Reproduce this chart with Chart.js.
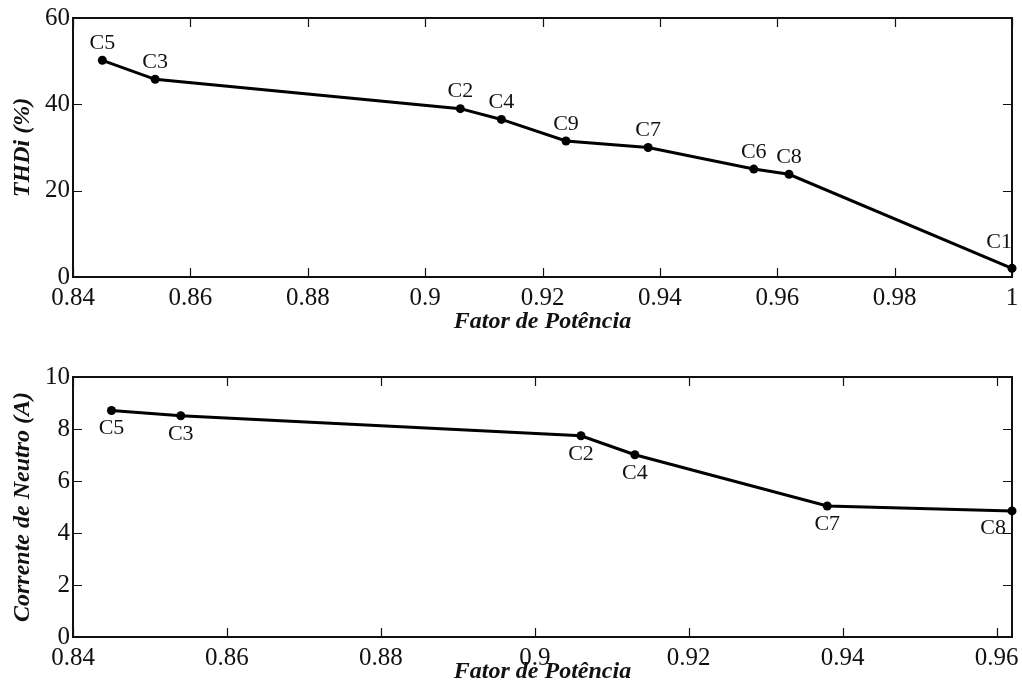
<!DOCTYPE html>
<html>
<head>
<meta charset="utf-8">
<script src="https://cdn.jsdelivr.net/npm/chart.js@4/dist/chart.umd.min.js"></script>
<style>
  body { margin: 0; background: #fff; }
  canvas { position: absolute; left: 0; }
  #thdChart { top: 0; }
  #neutroChart { top: 340px; }
</style>
</head>
<body>
<canvas id="thdChart" width="1022" height="340"></canvas>
<canvas id="neutroChart" width="1022" height="355"></canvas>
<script>
// THDi x fator de potência
const thdFp = [0.845, 0.854, 0.906, 0.913, 0.924, 0.938, 0.956, 0.962, 1.0];
const thdValues = [50.2, 45.8, 39.0, 36.5, 31.5, 30.0, 25.0, 23.8, 2.0];
const thdCases = ["C5", "C3", "C2", "C4", "C9", "C7", "C6", "C8", "C1"];
const thdXTicks = [0.84, 0.86, 0.88, 0.9, 0.92, 0.94, 0.96, 0.98, 1];
const thdYTicks = [0, 20, 40, 60];

// corrente de neutro x fator de potência
const neutroFp = [0.845, 0.854, 0.906, 0.913, 0.938, 0.962];
const neutroValues = [8.71, 8.51, 7.74, 7.01, 5.04, 4.85];
const neutroCases = ["C5", "C3", "C2", "C4", "C7", "C8"];
const neutroXTicks = [0.84, 0.86, 0.88, 0.9, 0.92, 0.94, 0.96];
const neutroYTicks = [0, 2, 4, 6, 8, 10];

const SERIF = "'Liberation Serif', 'Times New Roman', serif";
const INK = "#111";

// box around the plot with inward ticks on all four sides
const boxPlugin = {
  id: "box",
  beforeDatasetsDraw(chart) {
    const { ctx, chartArea: a, scales } = chart;
    ctx.save();
    ctx.strokeStyle = INK;
    ctx.lineWidth = 1.2;
    scales.x.ticks.forEach(t => {
      const px = Math.round(scales.x.getPixelForValue(t.value)) + 0.5;
      ctx.beginPath();
      ctx.moveTo(px, a.bottom); ctx.lineTo(px, a.bottom - 9);
      ctx.moveTo(px, a.top); ctx.lineTo(px, a.top + 9);
      ctx.stroke();
    });
    scales.y.ticks.forEach(t => {
      const py = Math.round(scales.y.getPixelForValue(t.value)) + 0.5;
      ctx.beginPath();
      ctx.moveTo(a.left, py); ctx.lineTo(a.left + 9, py);
      ctx.moveTo(a.right, py); ctx.lineTo(a.right - 9, py);
      ctx.stroke();
    });
    ctx.lineWidth = 2;
    ctx.strokeRect(a.left, a.top, a.right - a.left, a.bottom - a.top);
    ctx.restore();
  }
};

// case names next to each point
const caseLabelPlugin = {
  id: "caseLabels",
  afterDatasetsDraw(chart, args, opts) {
    const { ctx, chartArea: a } = chart;
    const meta = chart.getDatasetMeta(0);
    const names = chart.data.datasets[0].caseNames;
    ctx.save();
    ctx.font = "22px " + SERIF;
    ctx.fillStyle = INK;
    ctx.textBaseline = "middle";
    meta.data.forEach((pt, i) => {
      if (pt.x >= a.right - 1) {
        ctx.textAlign = "right";
        ctx.fillText(names[i], pt.x + opts.edgeDx, pt.y + opts.edgeDy);
      } else {
        ctx.textAlign = "center";
        ctx.fillText(names[i], pt.x, pt.y + opts.dy);
      }
    });
    ctx.restore();
  }
};

function makeChart(canvasId, xs, ys, names, xTicks, yTicks, cfg) {
  const points = xs.map((x, i) => ({ x: x, y: ys[i] }));
  const ctx = document.getElementById(canvasId).getContext("2d");

  return new Chart(ctx, {
    type: "scatter",
    data: {
      datasets: [{
        data: points,
        caseNames: names,
        showLine: true,
        borderColor: "#000",
        backgroundColor: "#000",
        borderWidth: 3,
        pointRadius: 4.5,
        pointBorderWidth: 0,
        clip: false
      }]
    },
    options: {
      responsive: false,
      animation: false,
      devicePixelRatio: 1,
      layout: { padding: { top: cfg.top, right: 10, left: 0, bottom: 0 } },
      plugins: {
        legend: { display: false },
        tooltip: { enabled: false },
        caseLabels: cfg.labels
      },
      scales: {
        x: {
          type: "linear",
          min: xTicks[0],
          max: cfg.xMax,
          afterBuildTicks: s => { s.ticks = xTicks.map(v => ({ value: v })); },
          afterFit: s => { s.height = cfg.xHeight; s.paddingLeft = 0; s.paddingRight = 0; },
          grid: { display: false, drawTicks: false },
          border: { display: false },
          ticks: {
            padding: 6,
            color: INK,
            font: { family: SERIF, size: 25 },
            maxRotation: 0,
            callback: v => String(v)
          },
          title: {
            display: true,
            text: "Fator de Potência",
            color: INK,
            font: { family: SERIF, size: 24, weight: "bold", style: "italic" },
            padding: { top: 0, bottom: cfg.titlePad }
          }
        },
        y: {
          type: "linear",
          min: yTicks[0],
          max: yTicks[yTicks.length - 1],
          afterBuildTicks: s => { s.ticks = yTicks.map(v => ({ value: v })); },
          afterFit: s => { s.width = 73; s.paddingTop = 0; s.paddingBottom = 0; },
          grid: { display: false, drawTicks: false },
          border: { display: false },
          ticks: {
            padding: 3,
            color: INK,
            font: { family: SERIF, size: 25 },
            callback: v => String(v)
          },
          title: {
            display: true,
            text: cfg.yTitle,
            color: INK,
            font: { family: SERIF, size: 24, weight: "bold", style: "italic" },
            padding: { top: 8, bottom: 0 }
          }
        }
      }
    },
    plugins: [boxPlugin, caseLabelPlugin]
  });
}

makeChart("thdChart", thdFp, thdValues, thdCases, thdXTicks, thdYTicks, {
  top: 18,
  xMax: 1.0,
  xHeight: 63,
  titlePad: 4,
  yTitle: "THDi (%)",
  labels: { dy: -17, edgeDx: 0, edgeDy: -26 }
});

makeChart("neutroChart", neutroFp, neutroValues, neutroCases, neutroXTicks, neutroYTicks, {
  top: 37,
  xMax: 0.962,
  xHeight: 58,
  titlePad: 9,
  yTitle: "Corrente de Neutro (A)",
  labels: { dy: 18, edgeDx: -6, edgeDy: 17 }
});
</script>
</body>
</html>
